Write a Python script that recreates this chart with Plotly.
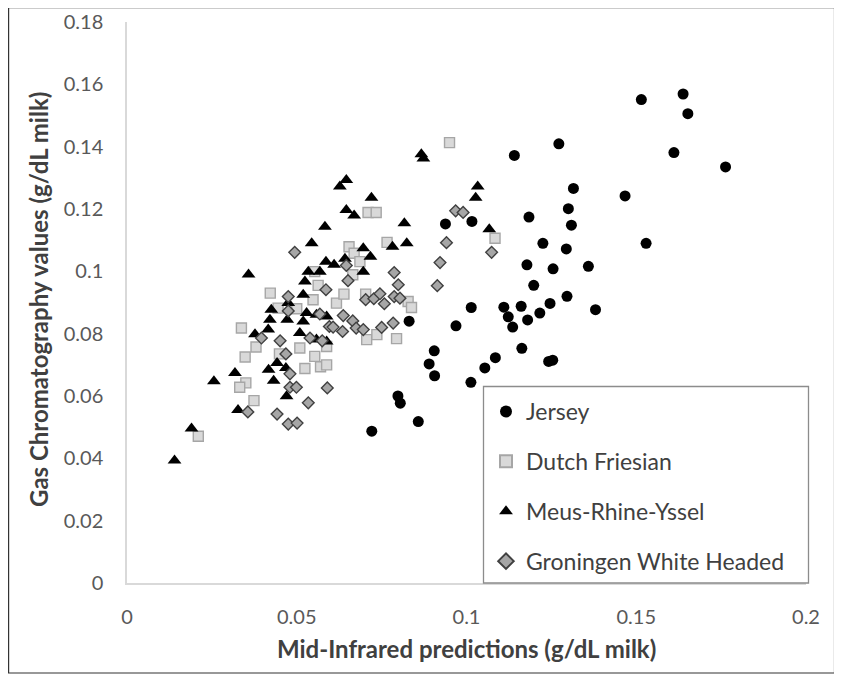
import plotly.graph_objects as go

# ---------------- data ----------------
jersey_x = [0.1515, 0.1638, 0.1652, 0.1272, 0.1141, 0.1611, 0.1315, 0.1467, 0.1300, 0.1184,
            0.1309, 0.1225, 0.1294, 0.1529, 0.1178, 0.1255, 0.1359, 0.1198, 0.1014, 0.1110,
            0.1161, 0.1246, 0.1296, 0.1380, 0.1216, 0.1123, 0.1180, 0.1136, 0.0831, 0.0969,
            0.1163, 0.0905, 0.0890, 0.0906, 0.1085, 0.1054, 0.1013, 0.1242, 0.1254, 0.0798,
            0.0805, 0.0858, 0.0721, 0.0938, 0.1016, 0.1763]
jersey_y = [0.1551, 0.1569, 0.1506, 0.1409, 0.1372, 0.1381, 0.1266, 0.1242, 0.1201, 0.1174,
            0.1148, 0.1090, 0.1072, 0.1090, 0.1021, 0.1008, 0.1016, 0.0955, 0.0884, 0.0885,
            0.0888, 0.0897, 0.0920, 0.0877, 0.0866, 0.0854, 0.0844, 0.0821, 0.0840, 0.0825,
            0.0753, 0.0745, 0.0703, 0.0665, 0.0723, 0.0690, 0.0644, 0.0711, 0.0715, 0.0600,
            0.0577, 0.0518, 0.0487, 0.1152, 0.1160, 0.1335]

friesian_x = [0.0337, 0.0380, 0.0348, 0.0350, 0.0332, 0.0374, 0.0210, 0.0422, 0.0445, 0.0548,
              0.0617, 0.0563, 0.0639, 0.0654, 0.0509, 0.0588, 0.0449, 0.0553, 0.0524, 0.0570,
              0.0588, 0.0950, 0.0710, 0.0734, 0.1084, 0.0766, 0.0669, 0.0686, 0.0665, 0.0703,
              0.0828, 0.0838, 0.0706, 0.0736, 0.0794, 0.0553, 0.0500]
friesian_y = [0.0818, 0.0757, 0.0725, 0.0642, 0.0628, 0.0585, 0.0471, 0.0930, 0.0882, 0.0909,
              0.0898, 0.0955, 0.0927, 0.1079, 0.0754, 0.0759, 0.0735, 0.0727, 0.0688, 0.0694,
              0.0700, 0.1413, 0.1189, 0.1189, 0.1106, 0.1093, 0.1058, 0.1031, 0.0989, 0.0927,
              0.0903, 0.0884, 0.0781, 0.0797, 0.0784, 0.0999, 0.0880]

mry_x = [0.0140, 0.0190, 0.0256, 0.0318, 0.0327, 0.0358, 0.0377, 0.0416, 0.0425, 0.0421,
         0.0472, 0.0475, 0.0519, 0.0529, 0.0558, 0.0588, 0.0519, 0.0509, 0.0558, 0.0588,
         0.0442, 0.0417, 0.0468, 0.0432, 0.0470, 0.0524, 0.0534, 0.0568, 0.0586, 0.0610,
         0.0642, 0.0544, 0.0583, 0.0627, 0.0646, 0.0646, 0.0669, 0.0720, 0.0696, 0.0717,
         0.0696, 0.0782, 0.0824, 0.0817, 0.0867, 0.0873, 0.1033, 0.1027, 0.1067]
mry_y = [0.0393, 0.0496, 0.0647, 0.0674, 0.0555, 0.0990, 0.0798, 0.0813, 0.0877, 0.0845,
         0.0845, 0.0898, 0.0925, 0.0866, 0.0861, 0.0855, 0.0839, 0.0802, 0.0781, 0.0775,
         0.0706, 0.0684, 0.0690, 0.0649, 0.0599, 0.0967, 0.0999, 0.0999, 0.1031, 0.1021,
         0.1040, 0.1090, 0.1143, 0.1272, 0.1293, 0.1197, 0.1179, 0.1236, 0.1074, 0.1047,
         0.0999, 0.1079, 0.1090, 0.1154, 0.1376, 0.1362, 0.1272, 0.1236, 0.1135]

gwh_x = [0.0356, 0.0494, 0.0646, 0.0586, 0.0475, 0.0651, 0.0475, 0.0568, 0.0637, 0.0396,
         0.0451, 0.0539, 0.0575, 0.0596, 0.0635, 0.0468, 0.0480, 0.0480, 0.0499, 0.0590,
         0.0534, 0.0442, 0.0475, 0.0501, 0.0968, 0.0990, 0.0941, 0.1074, 0.0787, 0.0799,
         0.0922, 0.0914, 0.0703, 0.0727, 0.0745, 0.0758, 0.0787, 0.0804, 0.0665, 0.0675,
         0.0696, 0.0750, 0.0784, 0.0607]
gwh_y = [0.0549, 0.1061, 0.1019, 0.0941, 0.0919, 0.0970, 0.0873, 0.0863, 0.0858, 0.0786,
         0.0777, 0.0786, 0.0777, 0.0823, 0.0807, 0.0735, 0.0671, 0.0628, 0.0628, 0.0626,
         0.0578, 0.0542, 0.0510, 0.0513, 0.1194, 0.1189, 0.1092, 0.1061, 0.0996, 0.0957,
         0.1028, 0.0954, 0.0909, 0.0912, 0.0928, 0.0896, 0.0919, 0.0914, 0.0841, 0.0818,
         0.0813, 0.0820, 0.0834, 0.0821]

series_names = ["Jersey", "Dutch Friesian", "Meus-Rhine-Yssel", "Groningen White Headed"]

x_tickvals = [0, 0.05, 0.1, 0.15, 0.2]
x_ticktext = ["0", "0.05", "0.1", "0.15", "0.2"]
y_tickvals = [0, 0.02, 0.04, 0.06, 0.08, 0.1, 0.12, 0.14, 0.16, 0.18]
y_ticktext = ["0", "0.02", "0.04", "0.06", "0.08", "0.1", "0.12", "0.14", "0.16", "0.18"]

x_title = "Mid-Infrared predictions (g/dL milk)"
y_title = "Gas Chromatography values (g/dL milk)"

# ---------------- layout geometry ----------------
# The page body has an 8px margin, so the figure is drawn 8px in from the window edge.
W, H = 834, 671
ML, MR, MT, MB = 119, 36, 14, 96
PW, PH = W - ML - MR, H - MT - MB
OFF = 8  # body margin

def sx(px):  # screen px -> paper x
    return (px - OFF - ML) / PW

def sy(py):  # screen py -> paper y
    return (H - MB - (py - OFF)) / PH

FONT = "Lato, Carlito, Calibri, 'Open Sans', sans-serif"
TXT = "#404040"

fig = go.Figure()

fig.add_trace(go.Scatter(
    x=jersey_x, y=jersey_y, mode="markers", name=series_names[0], legendgroup="a",
    marker=dict(symbol="circle", size=11, color="#000000", line=dict(width=0))))
fig.add_trace(go.Scatter(
    x=friesian_x, y=friesian_y, mode="markers", name=series_names[1], legendgroup="b",
    marker=dict(symbol="square", size=10, color="#d9d9d9", line=dict(width=1.4, color="#a6a6a6"))))
fig.add_trace(go.Scatter(
    x=mry_x, y=mry_y, mode="markers", name=series_names[2], legendgroup="c",
    marker=dict(symbol="triangle-up", size=12, color="#000000", line=dict(width=0))))
fig.add_trace(go.Scatter(
    x=gwh_x, y=gwh_y, mode="markers", name=series_names[3], legendgroup="d",
    marker=dict(symbol="diamond", size=9, color="#a6a6a6", line=dict(width=1.4, color="#404040"))))

fig.update_layout(
    width=W, height=H,
    margin=dict(l=ML, r=MR, t=MT, b=MB, autoexpand=False),
    paper_bgcolor="white", plot_bgcolor="white",
    font=dict(family=FONT, color=TXT, size=20),
    showlegend=True,
    legend=dict(
        x=sx(486), y=sy(390), xanchor="left", yanchor="top",
        bgcolor="rgba(0,0,0,0)", borderwidth=0,
        font=dict(family=FONT, size=23, color=TXT),
        tracegroupgap=17, itemsizing="constant",
    ),
    xaxis=dict(
        range=[0, 0.2], tickvals=x_tickvals, ticktext=x_ticktext, automargin=False,
        showgrid=False, zeroline=False, showline=True, linecolor="#d9d9d9", linewidth=1.5,
        ticks="", ticklabelstandoff=15,
        tickfont=dict(family=FONT, size=20, color="#595959"),
    ),
    yaxis=dict(
        range=[0, 0.18], tickvals=y_tickvals, ticktext=y_ticktext, automargin=False,
        showgrid=False, zeroline=False, showline=True, linecolor="#d9d9d9", linewidth=1.5,
        ticks="", ticklabelstandoff=18,
        tickfont=dict(family=FONT, size=20, color="#595959"),
    ),
    annotations=[
        dict(text="<b>" + x_title + "</b>", xref="paper", yref="paper",
             x=sx(466), y=sy(648), xanchor="center", yanchor="middle", showarrow=False,
             font=dict(family=FONT, size=24, color=TXT)),
        dict(text="<b>" + y_title + "</b>", xref="paper", yref="paper",
             x=sx(39), y=sy(300), xanchor="center", yanchor="middle", showarrow=False,
             textangle=-90, font=dict(family=FONT, size=24, color=TXT)),
    ],
    shapes=[
        # legend box
        dict(type="rect", xref="paper", yref="paper",
             x0=sx(483.5), x1=sx(808.5), y0=sy(583), y1=sy(386.5),
             line=dict(color="#8c8c8c", width=1.3), fillcolor="rgba(255,255,255,0)", layer="above"),
        # outer frame
        dict(type="rect", xref="paper", yref="paper",
             x0=sx(8.6), x1=sx(834.5), y0=sy(673), y1=sy(7.6),
             line=dict(color="#333333", width=1.2), fillcolor="rgba(0,0,0,0)"),
    ],
)

fig.write_html("out.html")
